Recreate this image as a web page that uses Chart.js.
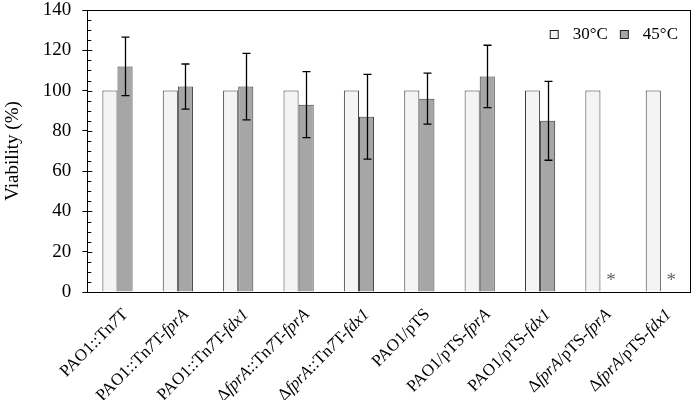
<!DOCTYPE html>
<html>
<head>
<meta charset="utf-8">
<script src="https://cdn.jsdelivr.net/npm/chart.js@4/dist/chart.umd.min.js"></script>
<style>
  html, body { margin: 0; padding: 0; background: #fff; }
  #wrap { width: 692px; height: 400px; }
</style>
</head>
<body>
<div id="wrap"><canvas id="c" width="692" height="400"></canvas></div>
<script>
// strain labels; text between underscores is drawn italic
const strains = [
  "PAO1::Tn_7_T",
  "PAO1::Tn_7_T-_fprA_",
  "PAO1::Tn_7_T-_fdx1_",
  "Δ_fprA_::Tn_7_T-_fprA_",
  "Δ_fprA_::Tn_7_T-_fdx1_",
  "PAO1/pTS",
  "PAO1/pTS-_fprA_",
  "PAO1/pTS-_fdx1_",
  "Δ_fprA_/pTS-_fprA_",
  "Δ_fprA_/pTS-_fdx1_",
];
const seriesNames = ["30°C", "45°C"];
const viability30 = [100, 100, 100, 100, 100, 100, 100, 100, 100, 100];
const viability45 = [112, 102, 102, 93, 87, 96, 107, 85, 0, 0];
const error45 = [14.5, 11.2, 16.5, 16.4, 21, 12.7, 15.5, 19.6, 0, 0];
const noGrowth45 = [false, false, false, false, false, false, false, false, true, true];
const yTicks = [0, 20, 40, 60, 80, 100, 120, 140];

const SERIF = "'Liberation Serif', 'Times New Roman', serif";
const EDGE = "#3a3a3a";

// error bars, asterisks, frame, minor ticks, legend and the mixed-style x labels
const extras = {
  id: "extras",
  afterDatasetsDraw(chart) {
    const { ctx, scales } = chart;
    const y = scales.y;
    const meta = chart.getDatasetMeta(1);
    ctx.save();
    ctx.strokeStyle = "#000";
    ctx.lineWidth = 1.3;
    meta.data.forEach((bar, i) => {
      if (!error45[i]) return;
      const x = Math.round(bar.x) + 0.5;
      const top = y.getPixelForValue(viability45[i] + error45[i]);
      const bot = y.getPixelForValue(viability45[i] - error45[i]);
      ctx.beginPath();
      ctx.moveTo(x, top); ctx.lineTo(x, bot);
      ctx.moveTo(x - 4, top); ctx.lineTo(x + 4, top);
      ctx.moveTo(x - 4, bot); ctx.lineTo(x + 4, bot);
      ctx.stroke();
    });
    ctx.fillStyle = "#666";
    ctx.font = "19px " + SERIF;
    ctx.textAlign = "center";
    ctx.textBaseline = "middle";
    meta.data.forEach((bar, i) => {
      if (noGrowth45[i]) ctx.fillText("*", bar.x + 3, y.getPixelForValue(0) - 11);
    });
    ctx.restore();
  },
  afterDraw(chart) {
    const { ctx, chartArea: a, scales, data } = chart;
    const y = scales.y, x = scales.x;
    ctx.save();
    ctx.strokeStyle = "#000";
    ctx.lineWidth = 1;
    ctx.strokeRect(Math.round(a.left) + 0.5, Math.round(a.top) + 0.5,
      Math.round(a.right - a.left) - 1, Math.round(a.bottom - a.top));
    ctx.beginPath();
    for (let v = 0; v <= 140; v += 5) {
      const py = Math.round(y.getPixelForValue(v)) + 0.5;
      ctx.moveTo(a.left, py);
      ctx.lineTo(a.left + (v % 20 === 0 ? 5 : 4), py);
    }
    ctx.stroke();

    // legend, top right inside the frame
    ctx.font = "17px " + SERIF;
    ctx.textBaseline = "middle";
    ctx.textAlign = "left";
    let lx = a.right - 13;
    const ly = a.top + 25;
    for (let d = data.datasets.length - 1; d >= 0; d--) {
      const ds = data.datasets[d];
      const w = ctx.measureText(ds.label).width;
      lx -= w;
      ctx.fillStyle = "#000";
      ctx.fillText(ds.label, lx, ly);
      lx -= 23;
      ctx.fillStyle = ds.backgroundColor;
      ctx.fillRect(lx + 0.5, ly - 4.5, 8, 8);
      ctx.strokeStyle = "#222";
      ctx.strokeRect(lx + 0.5, ly - 4.5, 8, 8);
      lx -= 12;
    }

    ctx.fillStyle = "#000";
    strains.forEach((lab, i) => {
      const parts = lab.split("_");
      const widths = parts.map((p, k) => {
        ctx.font = (k % 2 ? "italic " : "") + "17px " + SERIF;
        return ctx.measureText(p).width;
      });
      const total = widths.reduce((s, w) => s + w, 0);
      ctx.save();
      ctx.translate(x.getPixelForValue(i) + 8, a.bottom + 20);
      ctx.rotate(-Math.PI / 4);
      let cx = -total;
      ctx.textAlign = "left";
      parts.forEach((p, k) => {
        ctx.font = (k % 2 ? "italic " : "") + "17px " + SERIF;
        ctx.fillText(p, cx, 0);
        cx += widths[k];
      });
      ctx.restore();
    });
    ctx.restore();
  },
};

new Chart(document.getElementById("c"), {
  type: "bar",
  data: {
    labels: strains.map((s) => s.replace(/_/g, "")),
    datasets: [
      {
        label: seriesNames[0],
        data: viability30,
        backgroundColor: "#f4f4f4",
        borderColor: EDGE,
        borderWidth: 1,
      },
      {
        label: seriesNames[1],
        data: viability45,
        backgroundColor: "#a6a6a6",
        borderColor: EDGE,
        borderWidth: 1,
      },
    ],
  },
  options: {
    responsive: false,
    animation: false,
    events: [],
    layout: { padding: { top: 10, right: 1, bottom: 100, left: 2 } },
    datasets: { bar: { categoryPercentage: 0.5, barPercentage: 1 } },
    plugins: {
      tooltip: { enabled: false },
      legend: { display: false },
    },
    scales: {
      x: {
        ticks: { display: false },
        grid: { display: false },
        border: { display: false },
      },
      y: {
        min: 0,
        max: 140,
        afterBuildTicks: (s) => { s.ticks = yTicks.map((v) => ({ value: v })); },
        afterFit: (s) => { s.paddingTop = 0; s.paddingBottom = 0; },
        ticks: { color: "#000", font: { family: SERIF, size: 19 }, padding: 11 },
        grid: { drawOnChartArea: false, drawTicks: true, tickLength: 5, color: "#000" },
        border: { display: false },
        title: {
          display: true,
          text: "Viability (%)",
          color: "#000",
          font: { family: SERIF, size: 19 },
          padding: { top: 0, bottom: 7 },
        },
      },
    },
  },
  plugins: [extras],
});
</script>
</body>
</html>
